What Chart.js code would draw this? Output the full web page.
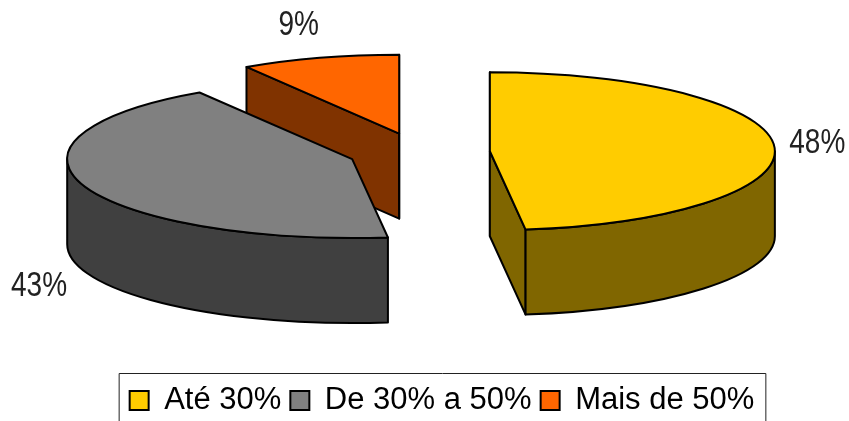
<!DOCTYPE html>
<html>
<head>
<meta charset="utf-8">
<style>html,body{margin:0;padding:0;background:#fff}#w{position:relative;width:849px;height:421px}canvas{display:block}</style>
<script src="https://cdn.jsdelivr.net/npm/chart.js@4/dist/chart.umd.min.js"></script>
</head>
<body>
<div id="w"><canvas id="c" width="849" height="421"></canvas></div>
<script>
const categories = ['Até 30%', 'De 30% a 50%', 'Mais de 50%'];
const shares = [48, 43, 9];
const topColors = ['#FFCC00', '#808080', '#FF6600'];
const wallColors = ['#806600', '#404040', '#803300'];

const TILT = 0.277, DEPTH = 85, LEGEND_SHIFT_X = 23, LEGEND_SHIFT_Y = 71;
const LABEL_SHIFT = [[43, -3], [-45, 100], [-21, -32]];

function geom(arc) {
  const p = arc.getProps(['x', 'y', 'startAngle', 'endAngle', 'outerRadius']);
  const mid = (p.startAngle + p.endAngle) / 2, off = arc.options.offset;
  return { cx: p.x + Math.cos(mid) * off, cy: p.y + Math.sin(mid) * off * TILT,
           a0: p.startAngle, a1: p.endAngle, rx: p.outerRadius, ry: p.outerRadius * TILT, mid };
}
const pie3d = {
  id: 'pie3d',
  afterLayout(chart) {
    const L = chart.legend;
    L.left += LEGEND_SHIFT_X; L.right += LEGEND_SHIFT_X;
    L.top += LEGEND_SHIFT_Y; L.bottom += LEGEND_SHIFT_Y;
  },
  beforeDatasetDraw() { return false; },
  beforeDatasetsDraw(chart) {
    const ctx = chart.ctx, arcs = chart.getDatasetMeta(0).data;
    ctx.save();
    ctx.lineWidth = 2; ctx.lineJoin = 'round'; ctx.strokeStyle = '#000';
    for (let i = arcs.length - 1; i >= 0; i--) {
      const g = geom(arcs[i]);
      const paint = (fill) => { ctx.closePath(); ctx.fillStyle = fill; ctx.fill(); ctx.stroke(); };
      const face = (a) => {
        const x = g.cx + Math.cos(a) * g.rx, y = g.cy + Math.sin(a) * g.ry;
        ctx.beginPath(); ctx.moveTo(g.cx, g.cy); ctx.lineTo(x, y);
        ctx.lineTo(x, y + DEPTH); ctx.lineTo(g.cx, g.cy + DEPTH);
        paint(wallColors[i]);
      };
      if (Math.cos(g.a0) <= 1e-6) face(g.a0);
      if (Math.cos(g.a1) >= -1e-6) face(g.a1);
      const w0 = Math.max(g.a0, 0), w1 = Math.min(g.a1, Math.PI);
      if (w1 > w0) {
        ctx.beginPath();
        ctx.ellipse(g.cx, g.cy, g.rx, g.ry, 0, w0, w1);
        ctx.ellipse(g.cx, g.cy + DEPTH, g.rx, g.ry, 0, w1, w0, true);
        paint(wallColors[i]);
      }
      ctx.beginPath(); ctx.moveTo(g.cx, g.cy);
      ctx.ellipse(g.cx, g.cy, g.rx, g.ry, 0, g.a0, g.a1);
      paint(topColors[i]);
    }
    ctx.fillStyle = '#222';
    ctx.font = '35px "Liberation Sans"';
    ctx.textAlign = 'center'; ctx.textBaseline = 'middle';
    arcs.forEach((arc, i) => {
      const g = geom(arc);
      ctx.save();
      ctx.translate(g.cx + Math.cos(g.mid) * g.rx + LABEL_SHIFT[i][0],
                    g.cy + Math.sin(g.mid) * g.ry + LABEL_SHIFT[i][1]);
      ctx.scale(0.8, 1);
      ctx.fillText(shares[i] + '%', 0, 0);
      ctx.restore();
    });
    ctx.restore();
  },
  afterDraw(chart) {
    const ctx = chart.ctx, L = chart.legend, b = L.legendHitBoxes;
    const left = b[0].left - 10.5, right = b[b.length - 1].left + b[b.length - 1].width + 11.5;
    const top = 373.5;
    ctx.save();
    ctx.strokeStyle = '#222'; ctx.lineWidth = 1;
    ctx.beginPath();
    ctx.moveTo(left, chart.height); ctx.lineTo(left, top);
    ctx.lineTo(right, top); ctx.lineTo(right, chart.height);
    ctx.stroke();
    ctx.restore();
  }
};
new Chart(document.getElementById('c'), {
  type: 'pie',
  data: {
    labels: categories,
    datasets: [{ data: shares, backgroundColor: topColors, borderColor: '#000', borderWidth: 2, offset: 71 }]
  },
  options: {
    responsive: false,
    animation: false,
    radius: 285,
    layout: { padding: { top: 0, right: 11, bottom: 66, left: 0 } },
    plugins: {
      tooltip: { enabled: false },
      legend: {
        position: 'bottom',
        labels: {
          font: { family: '"Liberation Sans"', size: 31 },
          color: '#000',
          boxWidth: 19, boxHeight: 19, padding: 9,
          generateLabels(chart) {
            return categories.map((t, i) => ({ text: t, fillStyle: topColors[i], strokeStyle: '#000', lineWidth: 2, index: i, fontColor: '#000' }));
          }
        }
      }
    }
  },
  plugins: [pie3d]
});
</script>
</body>
</html>
